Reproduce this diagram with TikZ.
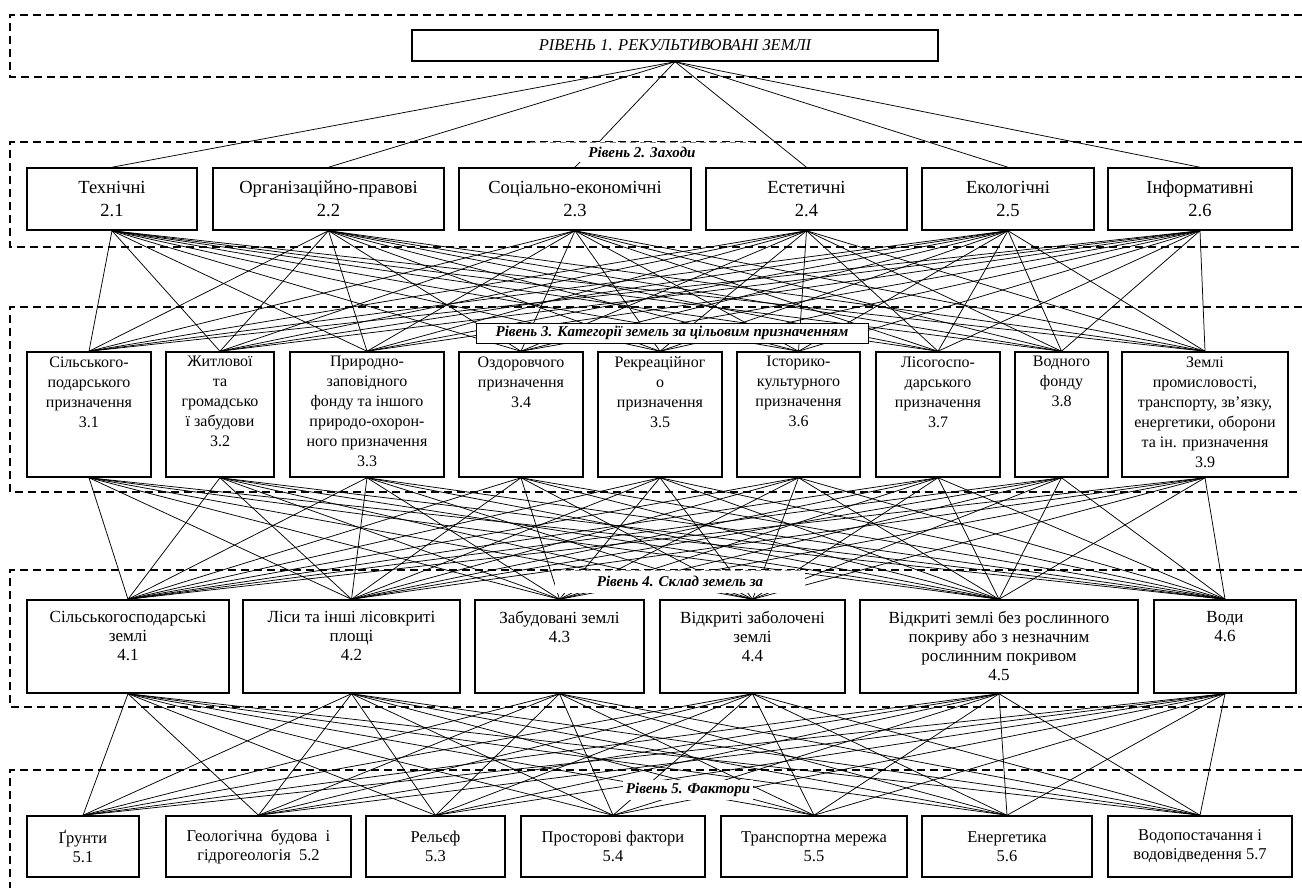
\documentclass[tikz,border=0pt]{standalone}
\usepackage{fontspec}
\setmainfont{Liberation Serif}

\begin{document}
\begin{tikzpicture}[x=1pt,y=-1pt,
	zone/.style={line width=2.2pt,dash pattern=on 8pt off 5pt},
	link/.style={line width=0.75pt},
	box/.style={draw,line width=1.5pt,fill=white,inner sep=0pt},
	topbox/.style={box,minimum width=526,minimum height=31,font=\fontsize{16.5}{19}\selectfont\itshape},
	mbox/.style={box,minimum height=62,align=center,font=\fontsize{18.5}{23}\selectfont},
	cbox/.style={box,minimum height=125},
	ctext/.style={anchor=north,align=center,inner sep=5pt,font=\fontsize{16}{20}\selectfont},
	sbox/.style={box,minimum height=93},
	stext/.style={anchor=north,align=center,inner sep=12pt,font=\fontsize{17}{18.8}\selectfont},
	fbox/.style={box,minimum height=61,align=center,font=\fontsize{16.5}{19}\selectfont},
	lvl/.style={inner sep=2pt,font=\fontsize{15}{17}\selectfont\bfseries\itshape}]
	\useasboundingbox (0,0) rectangle (1302,888);
	\foreach \t/\b in {15/77,142/247,307/492,570/707}
		\draw[zone] (1302,\t) -- (10,\t) -- (10,\b) -- (1302,\b);
	\draw[zone] (1302,770) -- (10,770) -- (10,888);

	\node[topbox] (r1) at (675,45.5) {РІВЕНЬ 1. РЕКУЛЬТИВОВАНІ ЗЕМЛІ};

	\node[mbox,minimum width=170] (m1) at (112,199) {Технічні\\2.1};
	\node[mbox,minimum width=231] (m2) at (328.5,199) {Організаційно-правові\\2.2};
	\node[mbox,minimum width=232] (m3) at (575,199) {Соціально-економічні\\2.3};
	\node[mbox,minimum width=201] (m4) at (806.5,199) {Естетичні\\2.4};
	\node[mbox,minimum width=172] (m5) at (1008,199) {Екологічні\\2.5};
	\node[mbox,minimum width=184] (m6) at (1200,199) {Інформативні\\2.6};

	\node[cbox,minimum width=124] (c1) at (89,414.5) {};
	\node[cbox,minimum width=108] (c2) at (220,414.5) {};
	\node[cbox,minimum width=154] (c3) at (367,414.5) {};
	\node[cbox,minimum width=124] (c4) at (521,414.5) {};
	\node[cbox,minimum width=124] (c5) at (660,414.5) {};
	\node[cbox,minimum width=123] (c6) at (798.5,414.5) {};
	\node[cbox,minimum width=124] (c7) at (938,414.5) {};
	\node[cbox,minimum width=93] (c8) at (1061.5,414.5) {};
	\node[cbox,minimum width=166] (c9) at (1205,414.5) {};
	\node[ctext] (c1t) at (c1.north) {Сільського-\\подарського\\призначення\\3.1};
	\node[ctext] (c2t) at (c2.north) {Житлової\\та\\громадсько\\ї забудови\\3.2};
	\node[ctext] (c3t) at (c3.north) {Природно-\\заповідного\\фонду та іншого\\природо-охорон-\\ного призначення\\3.3};
	\node[ctext] (c4t) at (c4.north) {Оздоровчого\\призначення\\3.4};
	\node[ctext] (c5t) at (c5.north) {Рекреаційног\\о\\призначення\\3.5};
	\node[ctext] (c6t) at (c6.north) {Історико-\\культурного\\призначення\\3.6};
	\node[ctext] (c7t) at (c7.north) {Лісогоспо-\\дарського\\призначення\\3.7};
	\node[ctext] (c8t) at (c8.north) {Водного\\фонду\\3.8};
	\node[ctext] (c9t) at (c9.north) {Землі\\промисловості,\\транспорту, зв’язку,\\енергетики, оборони\\та ін. призначення\\3.9};

	\node[sbox,minimum width=202] (s1) at (128,646.5) {};
	\node[sbox,minimum width=217] (s2) at (351.5,646.5) {};
	\node[sbox,minimum width=169] (s3) at (559.5,646.5) {};
	\node[sbox,minimum width=185] (s4) at (752.5,646.5) {};
	\node[sbox,minimum width=278] (s5) at (999,646.5) {};
	\node[sbox,minimum width=142] (s6) at (1225,646.5) {};
	\node[stext] (s1t) at (s1.north) {Сільськогосподарські\\землі\\4.1};
	\node[stext] (s2t) at (s2.north) {Ліси та інші лісовкриті\\площі\\4.2};
	\node[stext] (s3t) at (s3.north) {Забудовані землі\\4.3};
	\node[stext] (s4t) at (s4.north) {Відкриті заболочені\\землі\\4.4};
	\node[stext] (s5t) at (s5.north) {Відкриті землі без рослинного\\покриву або з незначним\\рослинним покривом\\4.5};
	\node[stext] (s6t) at (s6.north) {Води\\4.6};

	\node[fbox,minimum width=112] (f1) at (83,846.5) {Ґрунти\\5.1};
	\node[fbox,minimum width=185] (f2) at (258.5,846.5) {Геологічна~ будова~ і\\гідрогеологія~ 5.2};
	\node[fbox,minimum width=139] (f3) at (435.5,846.5) {Рельєф\\5.3};
	\node[fbox,minimum width=184] (f4) at (613,846.5) {Просторові фактори\\5.4};
	\node[fbox,minimum width=186] (f5) at (814,846.5) {Транспортна мережа\\5.5};
	\node[fbox,minimum width=170] (f6) at (1007,846.5) {Енергетика\\5.6};
	\node[fbox,minimum width=184] (f7) at (1200,846.5) {Водопостачання і\\водовідведення 5.7};

	\foreach \i in {1,...,6}
		\draw[link] (r1.south) -- (m\i.north);
	\foreach \i in {1,...,6}
		\foreach \j in {1,...,9}
			\draw[link] (m\i.south) -- (c\j.north);
	\foreach \i in {1,...,9}
		\foreach \j in {1,...,6}
			\draw[link] (c\i.south) -- (s\j.north);
	\foreach \i in {1,...,6}
		\foreach \j in {1,...,7}
			\draw[link] (s\i.south) -- (f\j.north);

	\node[lvl,fill=white,minimum width=224,minimum height=20,anchor=north] (l2) at (642,142) {Рівень 2. Заходи};
	\draw[gray,line width=0.6pt,dash pattern=on 6pt off 4pt] (l2.north west) -- (l2.north east);
	\node[lvl,draw,line width=0.8pt,fill=white,minimum width=392,minimum height=20] (l3) at (672,333) {Рівень 3. Категорії земель за цільовим призначенням};
	\node[lvl,fill=white,minimum width=250,minimum height=23,anchor=north] (l4) at (680,570) {Рівень 4. Склад земель за};
	\draw[gray,line width=0.6pt,dash pattern=on 6pt off 4pt] (l4.north west) -- (l4.north east);
	\node[lvl,fill=white,inner sep=3pt] (l5) at (688,790) {Рівень 5. Фактори};
\end{tikzpicture}
\end{document}
